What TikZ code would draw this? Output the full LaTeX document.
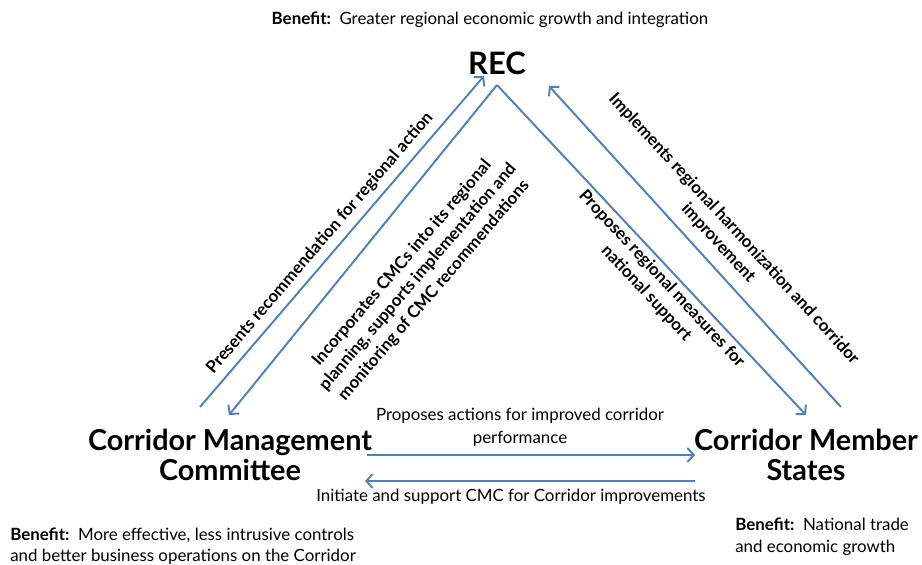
\documentclass[tikz,border=0pt]{standalone}
\usepackage{fontspec}
\setmainfont{Lato}
\usetikzlibrary{arrows.meta,positioning,calc}
\definecolor{linkblue}{rgb}{0.31, 0.51, 0.74}
\def\bnf{\textbf{Benefit:}\ \ }

\begin{document}
\begin{tikzpicture}[x=0.025cm,y=-0.025cm,
  actor/.style={font=\bfseries\fontsize{20.5}{21.5}\selectfont, align=center, inner sep=0pt},
  flow/.style={draw=linkblue, line width=1.4pt, -{Straight Barb[length=4.5pt,width=10pt]}},
  note/.style={font=\fontsize{12}{16}\selectfont, align=center, inner sep=0pt},
  tilt/.style={font=\bfseries\fontsize{12}{15}\selectfont, align=center, inner sep=0pt}]
\useasboundingbox (0,0) rectangle (922,565);
% actors
\node[actor, font=\bfseries\fontsize{22}{24}\selectfont] (rec) at (497,63) {REC};
\node[actor] (cmc) at (230,455) {Corridor Management\\Committee};
\node[actor] (cms) at (806,455) {Corridor Member\\States};
% benefits
\node[note] (benrec) at (490,20) {\bnf Greater regional economic growth and integration};
\node[note, align=left, anchor=west, font=\fontsize{12}{14.5}\selectfont] (bencmc) at (10,546) {\bnf More effective, less intrusive\ controls\\and\ better business operations on the Corridor};
\node[note, align=left, anchor=west, font=\fontsize{12}{16}\selectfont] (bencms) at (735,537) {\bnf National trade\\and economic growth};
% arrow ends
\coordinate (cmcup) at (200,407);
\coordinate (recin) at (484,76);
\coordinate (apex) at (497,85);
\coordinate (cmcin) at (229,415);
\coordinate (cmsin) at (806,415);
\coordinate (cmsup) at (841,407);
\coordinate (recin2) at (549,86);
\coordinate (cmcr) at (367,455);
\coordinate (cmsl) at (695,455);
\coordinate (cmsl2) at (695,481);
\coordinate (cmcr2) at (365,481);
% connectors
\draw[flow] (cmcup)--(recin);
\draw[flow] (apex)--(cmcin);
\draw[flow] (apex)--(cmsin);
\draw[flow] (cmsup)--(recin2);
\draw[flow] (cmcr)--(cmsl);
\draw[flow] (cmsl2)--(cmcr2);
% labels
\node[tilt, rotate=49.4] (present) at (320,243) {Presents recommendation for regional action};
\node[tilt, rotate=49.4] (incorp) at (418,277) {Incorporates CMCs into its regional\\planning, supports implementation and\\monitoring of CMC recommendations};
\node[tilt, rotate=-47] (propose) at (654,286) {Proposes regional measures for\\national support};
\node[tilt, rotate=-47.4] (implement) at (726,236) {Implements regional harmonization and corridor\\improvement};
\node[note] (actions) at (520,427) {Proposes actions for improved corridor\\performance};
\node[note] (initiate) at (511,497) {Initiate and support CMC for Corridor improvements};
\end{tikzpicture}
\end{document}
